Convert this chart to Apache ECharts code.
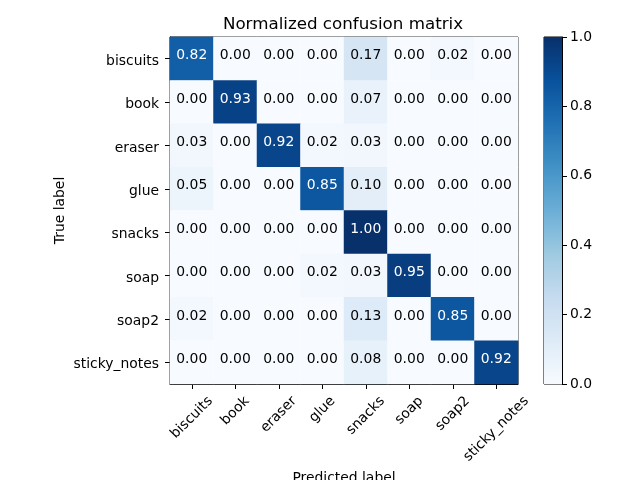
<!DOCTYPE html>
<html>
<head>
<meta charset="utf-8">
<script src="https://cdn.jsdelivr.net/npm/echarts@6/dist/echarts.min.js"></script>
<style>html,body{margin:0;padding:0;background:#fff;}#c{width:640px;height:480px;}</style>
</head>
<body>
<div id="c"></div>
<script>
const classes = ['biscuits','book','eraser','glue','snacks','soap','soap2','sticky_notes'];
const rowBiscuits = [0.82,0.00,0.00,0.00,0.17,0.00,0.02,0.00];
const rowBook     = [0.00,0.93,0.00,0.00,0.07,0.00,0.00,0.00];
const rowEraser   = [0.03,0.00,0.92,0.02,0.03,0.00,0.00,0.00];
const rowGlue     = [0.05,0.00,0.00,0.85,0.10,0.00,0.00,0.00];
const rowSnacks   = [0.00,0.00,0.00,0.00,1.00,0.00,0.00,0.00];
const rowSoap     = [0.00,0.00,0.00,0.02,0.03,0.95,0.00,0.00];
const rowSoap2    = [0.02,0.00,0.00,0.00,0.13,0.00,0.85,0.00];
const rowSticky   = [0.00,0.00,0.00,0.00,0.08,0.00,0.00,0.92];
const colorbarTicks = [0.0,0.2,0.4,0.6,0.8,1.0];

const rows = [rowBiscuits,rowBook,rowEraser,rowGlue,rowSnacks,rowSoap,rowSoap2,rowSticky];
const blues = ['#f7fbff','#deebf7','#c6dbef','#9ecae1','#6baed6','#4292c6','#2171b5','#08519c','#08306b'];
const F = 'DejaVu Sans';
const FS = 13.9;
const data = [];
rows.forEach((r, i) => r.forEach((v, j) => {
  data.push({value: [j, i, v], label: {color: v > 0.5 ? '#ffffff' : '#000000'}});
}));

// emulate matplotlib rotation=45, ha='center' tick labels
const ctx = document.createElement('canvas').getContext('2d');
ctx.font = FS + 'px "' + F + '"';
const xCats = classes.map(c => {
  const w = ctx.measureText(c).width;
  const p = (w + FS) / 2;
  return {value: c, textStyle: {align: 'center', verticalAlign: 'top', lineHeight: p, padding: [0, p, 0, 0],
          fontFamily: F, fontSize: FS, color: '#000'}};
});

const chart = echarts.init(document.getElementById('c'));
chart.setOption({
  animation: false,
  backgroundColor: '#ffffff',
  textStyle: {fontFamily: F},
  title: {
    text: 'Normalized confusion matrix', left: 343, top: 16, padding: 0, textAlign: 'center',
    textStyle: {fontFamily: F, fontSize: 16.7, fontWeight: 'normal', color: '#000'}
  },
  grid: [
    {left: 170, top: 37, width: 348, height: 347, show: true, borderColor: '#000', borderWidth: 1, backgroundColor: 'transparent', outerBoundsMode: 'none', containLabel: false},
    {left: 544, top: 37, width: 18, height: 347, show: true, borderColor: '#000', borderWidth: 1, backgroundColor: 'transparent', outerBoundsMode: 'none', containLabel: false}
  ],
  xAxis: [
    {type: 'category', data: xCats, gridIndex: 0,
     name: 'Predicted label', nameLocation: 'middle', nameGap: 87, nameMoveOverlap: false,
     nameTextStyle: {fontFamily: F, fontSize: FS, color: '#000'},
     axisLine: {show: true, lineStyle: {color: '#000'}},
     axisTick: {show: true, alignWithLabel: true, length: 5, lineStyle: {color: '#000'}},
     axisLabel: {rotate: 45, fontFamily: F, fontSize: FS, color: '#000', margin: 10, interval: 0},
     splitLine: {show: false}},
    {type: 'category', data: [''], gridIndex: 1, show: false}
  ],
  yAxis: [
    {type: 'category', data: classes, inverse: true, gridIndex: 0,
     name: 'True label', nameLocation: 'middle', nameGap: 103, nameMoveOverlap: false,
     nameTextStyle: {fontFamily: F, fontSize: FS, color: '#000'},
     axisLine: {show: true, lineStyle: {color: '#000'}},
     axisTick: {show: true, alignWithLabel: true, length: 5, lineStyle: {color: '#000'}},
     axisLabel: {fontFamily: F, fontSize: FS, color: '#000', margin: 11, interval: 0,
                 verticalAlign: 'top', lineHeight: 5},
     splitLine: {show: false}},
    {type: 'value', gridIndex: 1, min: 0, max: 1, interval: 0.2, position: 'right',
     axisLine: {show: true, lineStyle: {color: '#000'}},
     axisTick: {show: true, length: 5, lineStyle: {color: '#000'}},
     axisLabel: {fontFamily: F, fontSize: FS, color: '#000', margin: 8,
                 formatter: v => colorbarTicks.find(t => Math.abs(t - v) < 1e-6) !== undefined ? v.toFixed(1) : ''},
     splitLine: {show: false}}
  ],
  visualMap: {
    show: false, min: 0, max: 1, seriesIndex: 0, dimension: 2,
    inRange: {color: blues}
  },
  series: [
    {type: 'heatmap', xAxisIndex: 0, yAxisIndex: 0, data: data,
     label: {show: true, fontFamily: F, fontSize: FS, offset: [0, -3], formatter: p => p.value[2].toFixed(2)},
     itemStyle: {borderWidth: 0},
     emphasis: {disabled: true}},
    {type: 'bar', xAxisIndex: 1, yAxisIndex: 1, data: [1], barWidth: '100%',
     silent: true,
     itemStyle: {color: new echarts.graphic.LinearGradient(0, 1, 0, 0,
       blues.map((c, k) => ({offset: k / (blues.length - 1), color: c})))}}
  ]
});
</script>
</body>
</html>
